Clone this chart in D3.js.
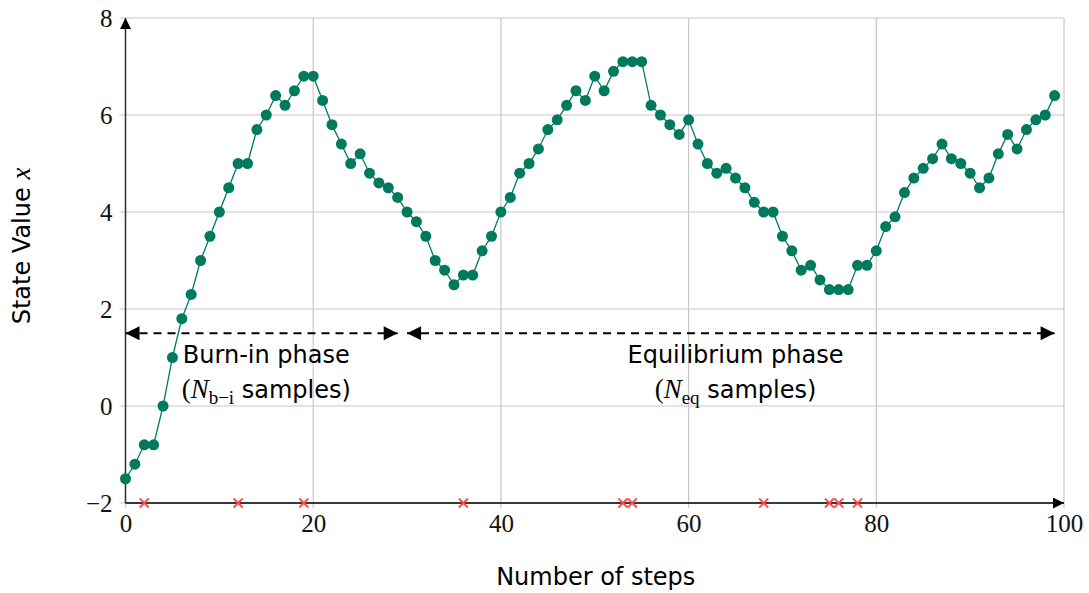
<!DOCTYPE html>
<html>
<head>
<meta charset="utf-8">
<script src="https://cdn.jsdelivr.net/npm/d3@7"></script>
<style>
  body { margin: 0; background: #fff; }
</style>
</head>
<body>
<svg id="chart" width="1089" height="593"></svg>
<script>
// state value of the chain at each step
var steps = d3.range(0, 100);
var stateValues = [
  -1.5, -1.2, -0.8, -0.8, 0.0, 1.0, 1.8, 2.3, 3.0, 3.5,
   4.0, 4.5, 5.0, 5.0, 5.7, 6.0, 6.4, 6.2, 6.5, 6.8,
   6.8, 6.3, 5.8, 5.4, 5.0, 5.2, 4.8, 4.6, 4.5, 4.3,
   4.0, 3.8, 3.5, 3.0, 2.8, 2.5, 2.7, 2.7, 3.2, 3.5,
   4.0, 4.3, 4.8, 5.0, 5.3, 5.7, 5.9, 6.2, 6.5, 6.3,
   6.8, 6.5, 6.9, 7.1, 7.1, 7.1, 6.2, 6.0, 5.8, 5.6,
   5.9, 5.4, 5.0, 4.8, 4.9, 4.7, 4.5, 4.2, 4.0, 4.0,
   3.5, 3.2, 2.8, 2.9, 2.6, 2.4, 2.4, 2.4, 2.9, 2.9,
   3.2, 3.7, 3.9, 4.4, 4.7, 4.9, 5.1, 5.4, 5.1, 5.0,
   4.8, 4.5, 4.7, 5.2, 5.6, 5.3, 5.7, 5.9, 6.0, 6.4
];
// steps where the proposal was rejected
var rejectedSteps = [2, 12, 19, 36, 53, 54, 68, 75, 76, 78];

var xTicks = [0, 20, 40, 60, 80, 100];
var yTicks = [-2, 0, 2, 4, 6, 8];

// phases: [start, end, label centre]
var burnIn = [0, 29, 15];
var equilibrium = [30, 99, 65];

(function() {
  var svg = d3.select("#chart");
  var left = 125.5, right = 1064, plotTop = 18, plotBottom = 503;

  var x = d3.scaleLinear().domain([0, 100]).range([left, right]);
  var y = d3.scaleLinear().domain([-2, 8]).range([plotBottom, plotTop]);

  var green = "#007a5e",
      red = "#ff4a4a",
      grid = "#c8c8c8",
      sans = "'DejaVu Sans', sans-serif",
      serif = "'Liberation Serif', 'DejaVu Serif', serif";

  var defs = svg.append("defs");
  defs.append("marker")
    .attr("id", "head")
    .attr("viewBox", "0 0 10 10")
    .attr("refX", 10).attr("refY", 5)
    .attr("markerWidth", 11).attr("markerHeight", 11)
    .attr("markerUnits", "userSpaceOnUse")
    .attr("orient", "auto-start-reverse")
    .append("path")
    .attr("d", "M0,0 L10,5 L0,10 z")
    .attr("fill", "#000");
  defs.append("marker")
    .attr("id", "bighead")
    .attr("viewBox", "0 0 10 10")
    .attr("refX", 10).attr("refY", 5)
    .attr("markerWidth", 15).attr("markerHeight", 14)
    .attr("markerUnits", "userSpaceOnUse")
    .attr("orient", "auto-start-reverse")
    .append("path")
    .attr("d", "M0,0 L10,5 L0,10 z")
    .attr("fill", "#000");

  // grid
  svg.append("g").selectAll("line").data(xTicks).enter().append("line")
    .attr("x1", function(d) { return x(d); }).attr("x2", function(d) { return x(d); })
    .attr("y1", plotTop).attr("y2", plotBottom + 5)
    .attr("stroke", grid).attr("stroke-width", 1.2);
  svg.append("g").selectAll("line").data(yTicks).enter().append("line")
    .attr("x1", left - 6).attr("x2", right)
    .attr("y1", function(d) { return y(d); }).attr("y2", function(d) { return y(d); })
    .attr("stroke", grid).attr("stroke-width", 1.2);

  function fmt(d) { return d < 0 ? "\u2212" + Math.abs(d) : d; }

  // tick labels through axes, domain hidden
  var xAxis = svg.append("g")
    .attr("transform", "translate(0," + plotBottom + ")")
    .call(d3.axisBottom(x).tickValues(xTicks).tickSize(0).tickPadding(11).tickFormat(fmt));
  xAxis.select(".domain").remove();
  xAxis.selectAll("text").attr("font-size", 25).attr("font-family", serif).attr("fill", "#111");

  var yAxis = svg.append("g")
    .attr("transform", "translate(" + (left - 1) + ",0)")
    .call(d3.axisLeft(y).tickValues(yTicks).tickSize(0).tickPadding(12).tickFormat(fmt));
  yAxis.select(".domain").remove();
  yAxis.selectAll("text").attr("font-size", 25).attr("font-family", serif).attr("fill", "#111");

  // axis lines with arrows
  svg.append("line")
    .attr("x1", x(0)).attr("x2", x(0)).attr("y1", plotBottom).attr("y2", plotTop)
    .attr("stroke", "#333").attr("stroke-width", 1.5)
    .attr("marker-end", "url(#head)");
  svg.append("line")
    .attr("x1", x(0)).attr("x2", x(100)).attr("y1", plotBottom).attr("y2", plotBottom)
    .attr("stroke", "#000").attr("stroke-width", 1.5)
    .attr("marker-end", "url(#head)");

  // phase arrows
  [burnIn, equilibrium].forEach(function(p) {
    svg.append("line")
      .attr("x1", x(p[0])).attr("x2", x(p[1]))
      .attr("y1", y(1.5)).attr("y2", y(1.5))
      .attr("stroke", "#000").attr("stroke-width", 2)
      .attr("stroke-dasharray", "8,6")
      .attr("marker-start", "url(#bighead)")
      .attr("marker-end", "url(#bighead)");
  });

  // chain
  var line = d3.line()
    .x(function(d, i) { return x(steps[i]); })
    .y(function(d) { return y(d); });
  svg.append("path")
    .datum(stateValues)
    .attr("d", line)
    .attr("fill", "none")
    .attr("stroke", green)
    .attr("stroke-width", 1.3);
  svg.append("g").selectAll("circle").data(stateValues).enter().append("circle")
    .attr("cx", function(d, i) { return x(steps[i]); })
    .attr("cy", function(d) { return y(d); })
    .attr("r", 5.5)
    .attr("fill", green);

  // rejected proposals
  var s = 4.5;
  svg.append("g").selectAll("path").data(rejectedSteps).enter().append("path")
    .attr("d", function(d) {
      var cx = x(d), cy = y(-2);
      return "M" + (cx - s) + "," + (cy - s) + "L" + (cx + s) + "," + (cy + s) +
             "M" + (cx - s) + "," + (cy + s) + "L" + (cx + s) + "," + (cy - s);
    })
    .attr("stroke", red).attr("stroke-width", 1.8);

  // phase labels
  function phaseLabel(p, title, sub) {
    var cx = x(p[2]);
    svg.append("text")
      .attr("x", cx).attr("y", y(1.5) + 30)
      .attr("text-anchor", "middle")
      .attr("font-family", sans).attr("font-size", 24)
      .text(title);
    var t = svg.append("text")
      .attr("x", cx).attr("y", y(1.5) + 65)
      .attr("text-anchor", "middle")
      .attr("font-size", 24);
    t.append("tspan").attr("font-family", serif).attr("font-size", 27).text("(");
    t.append("tspan").attr("font-family", serif).attr("font-style", "italic").attr("font-size", 27).text("N");
    t.append("tspan").attr("font-family", serif).attr("font-size", 19).attr("dy", 6).text(sub);
    t.append("tspan").attr("font-family", sans).attr("dy", -6).text(" samples");
    t.append("tspan").attr("font-family", sans).text(")");
  }
  phaseLabel(burnIn, "Burn-in phase", "b\u2212i");
  phaseLabel(equilibrium, "Equilibrium phase", "eq");

  // axis titles
  svg.append("text")
    .attr("x", (left + right) / 2 + 1).attr("y", 585)
    .attr("text-anchor", "middle")
    .attr("font-family", sans).attr("font-size", 24)
    .text("Number of steps");

  var yl = svg.append("text")
    .attr("transform", "translate(30," + y(3.3) + ") rotate(-90)")
    .attr("text-anchor", "middle")
    .attr("font-family", sans).attr("font-size", 24);
  yl.append("tspan").text("State Value ");
  yl.append("tspan").attr("font-family", serif).attr("font-style", "italic").attr("font-size", 27).text("x");
})();
</script>
</body>
</html>
